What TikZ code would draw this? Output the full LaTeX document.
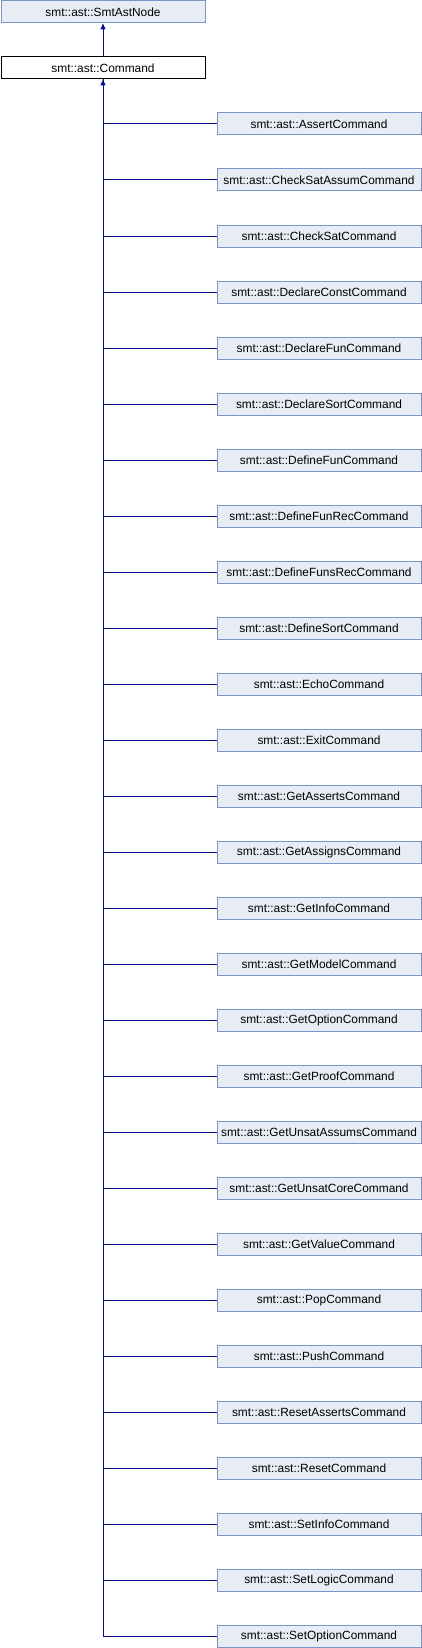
\documentclass[tikz,border=0pt]{standalone}
\usepackage{fontspec}
\setmainfont{Liberation Sans}
\usetikzlibrary{arrows.meta}
\definecolor{boxfill}{HTML}{E8ECF5}
\definecolor{boxline}{HTML}{7C95C6}
\definecolor{linkblue}{HTML}{0A0A8C}
\tikzset{
  cls/.style={shape=rectangle,draw=boxline,fill=boxfill,line width=1pt,minimum width=204pt,minimum height=22pt,inner sep=0pt,font=\fontsize{11.9}{14}\selectfont},
  cur/.style={cls,draw=black,fill=white},
  link/.style={draw=linkblue,line width=1pt},
  inh/.style={link,-{Triangle[length=6pt,width=5pt]}}
}
\begin{document}
\begin{tikzpicture}[x=1pt,y=-1pt]
    \useasboundingbox (0,0) rectangle (422,1648);
    \node[cls] (base) at (103,12) {smt::ast::SmtAstNode};
    \node[cur] (cmd) at (103,68) {smt::ast::Command};

    \node[cls] (assert) at (319,124) {smt::ast::AssertCommand};
    \node[cls] (checksatassum) at (319,180) {smt::ast::CheckSatAssumCommand};
    \node[cls] (checksat) at (319,236) {smt::ast::CheckSatCommand};
    \node[cls] (declconst) at (319,292) {smt::ast::DeclareConstCommand};
    \node[cls] (declfun) at (319,348) {smt::ast::DeclareFunCommand};
    \node[cls] (declsort) at (319,404) {smt::ast::DeclareSortCommand};
    \node[cls] (deffun) at (319,460) {smt::ast::DefineFunCommand};
    \node[cls] (deffunrec) at (319,516) {smt::ast::DefineFunRecCommand};
    \node[cls] (deffunsrec) at (319,572) {smt::ast::DefineFunsRecCommand};
    \node[cls] (defsort) at (319,628) {smt::ast::DefineSortCommand};
    \node[cls] (echo) at (319,684) {smt::ast::EchoCommand};
    \node[cls] (exit) at (319,740) {smt::ast::ExitCommand};
    \node[cls] (getasserts) at (319,796) {smt::ast::GetAssertsCommand};
    \node[cls] (getassigns) at (319,852) {smt::ast::GetAssignsCommand};
    \node[cls] (getinfo) at (319,908) {smt::ast::GetInfoCommand};
    \node[cls] (getmodel) at (319,964) {smt::ast::GetModelCommand};
    \node[cls] (getoption) at (319,1020) {smt::ast::GetOptionCommand};
    \node[cls] (getproof) at (319,1076) {smt::ast::GetProofCommand};
    \node[cls] (getunsatassums) at (319,1132) {smt::ast::GetUnsatAssumsCommand};
    \node[cls] (getunsatcore) at (319,1188) {smt::ast::GetUnsatCoreCommand};
    \node[cls] (getvalue) at (319,1244) {smt::ast::GetValueCommand};
    \node[cls] (pop) at (319,1300) {smt::ast::PopCommand};
    \node[cls] (push) at (319,1356) {smt::ast::PushCommand};
    \node[cls] (resetasserts) at (319,1412) {smt::ast::ResetAssertsCommand};
    \node[cls] (reset) at (319,1468) {smt::ast::ResetCommand};
    \node[cls] (setinfo) at (319,1524) {smt::ast::SetInfoCommand};
    \node[cls] (setlogic) at (319,1580) {smt::ast::SetLogicCommand};
    \node[cls] (setoption) at (319,1636) {smt::ast::SetOptionCommand};

    \path [inh] (cmd) -- (base);

    \path [inh] (assert.west) -| (cmd.south);
    \path [link] (checksatassum.west) -| (cmd.south);
    \path [link] (checksat.west) -| (cmd.south);
    \path [link] (declconst.west) -| (cmd.south);
    \path [link] (declfun.west) -| (cmd.south);
    \path [link] (declsort.west) -| (cmd.south);
    \path [link] (deffun.west) -| (cmd.south);
    \path [link] (deffunrec.west) -| (cmd.south);
    \path [link] (deffunsrec.west) -| (cmd.south);
    \path [link] (defsort.west) -| (cmd.south);
    \path [link] (echo.west) -| (cmd.south);
    \path [link] (exit.west) -| (cmd.south);
    \path [link] (getasserts.west) -| (cmd.south);
    \path [link] (getassigns.west) -| (cmd.south);
    \path [link] (getinfo.west) -| (cmd.south);
    \path [link] (getmodel.west) -| (cmd.south);
    \path [link] (getoption.west) -| (cmd.south);
    \path [link] (getproof.west) -| (cmd.south);
    \path [link] (getunsatassums.west) -| (cmd.south);
    \path [link] (getunsatcore.west) -| (cmd.south);
    \path [link] (getvalue.west) -| (cmd.south);
    \path [link] (pop.west) -| (cmd.south);
    \path [link] (push.west) -| (cmd.south);
    \path [link] (resetasserts.west) -| (cmd.south);
    \path [link] (reset.west) -| (cmd.south);
    \path [link] (setinfo.west) -| (cmd.south);
    \path [link] (setlogic.west) -| (cmd.south);
    \path [link] (setoption.west) -| (cmd.south);

\end{tikzpicture}
\end{document}
